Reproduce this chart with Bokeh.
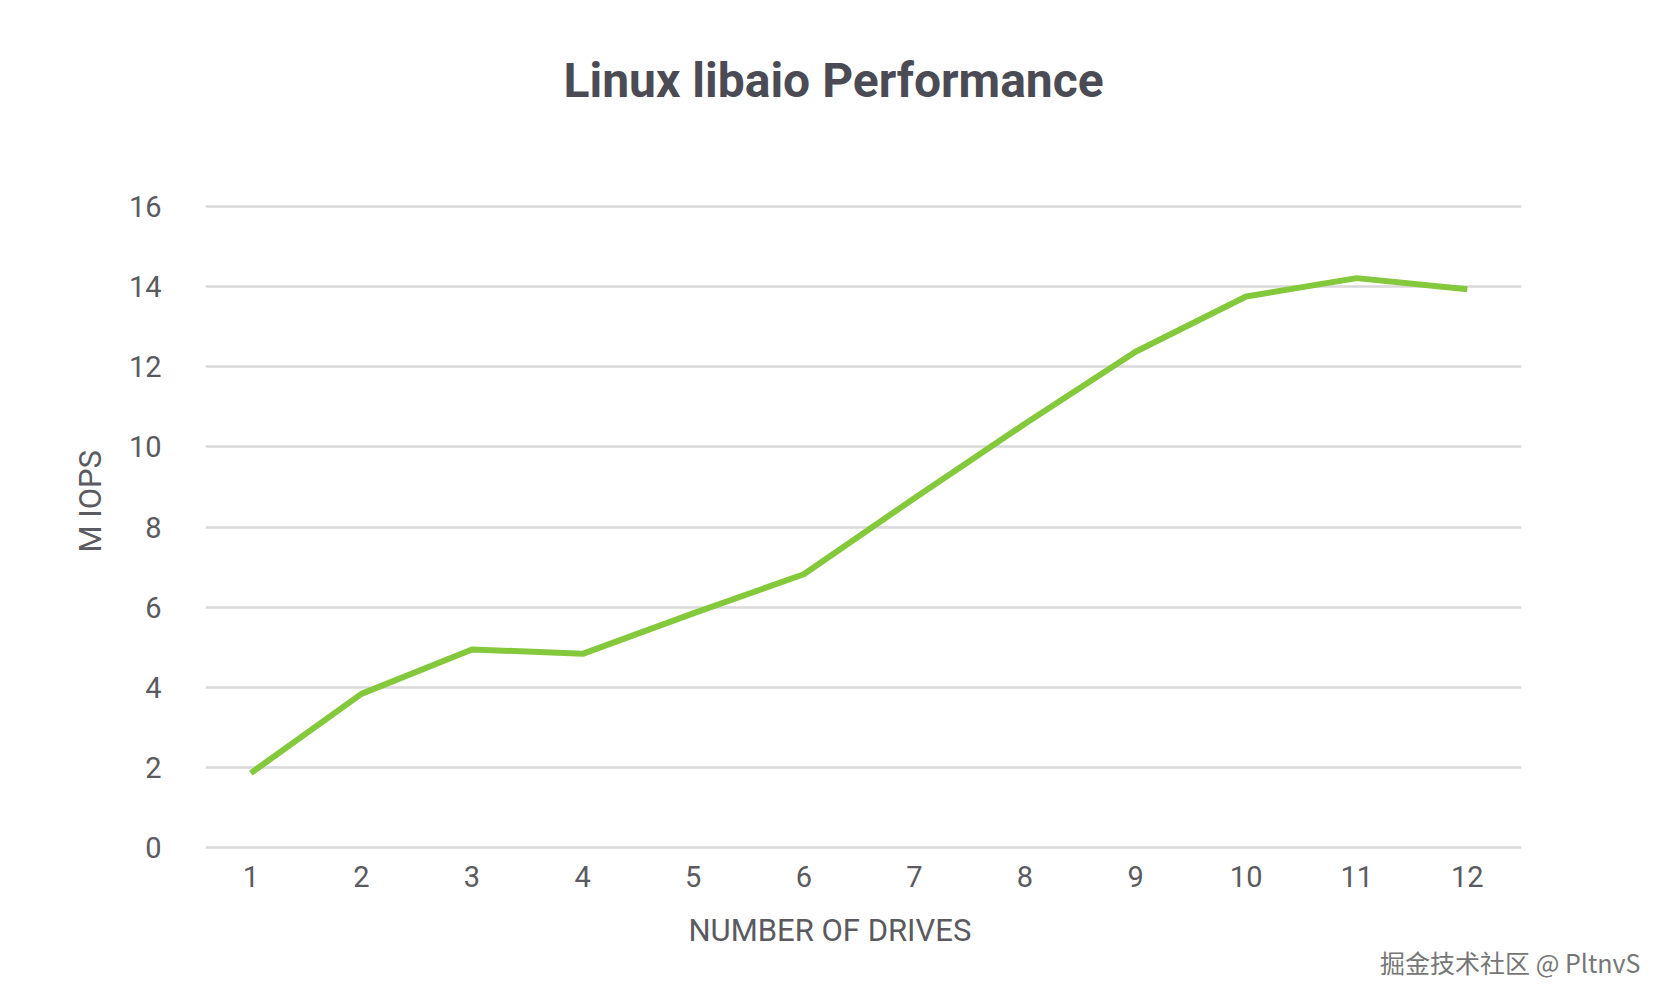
from bokeh.plotting import figure
from bokeh.models import Range1d, Title, FixedTicker, ColumnDataSource
from bokeh.embed import file_html
from bokeh.resources import INLINE

# data
drives = [1, 2, 3, 4, 5, 6, 7, 8, 9, 10, 11, 12]
miops = [1.85, 3.83, 4.94, 4.83, 5.84, 6.82, 8.72, 10.58, 12.38, 13.76, 14.22, 13.94]
y_ticks = [0, 2, 4, 6, 8, 10, 12, 14, 16]
title_text = "Linux libaio Performance"
x_label = "NUMBER OF DRIVES"
y_label = "M IOPS"
watermark = "掘金技术社区 @ PltnvS"

FONT = "Roboto"
TXT = "#5a5a60"

p = figure(width=1650, height=984, output_backend="svg", toolbar_location=None,
           x_range=Range1d(0.59, 12.49), y_range=Range1d(-0.06, 16.06),
           min_border_left=205, min_border_right=129, min_border_top=204,
           min_border_bottom=135, background_fill_color="white",
           border_fill_color="white", outline_line_color=None)

src = ColumnDataSource(dict(x=drives, y=miops))
p.line("x", "y", source=src, line_color="#84c83c", line_width=6)

p.xgrid.grid_line_color = None
p.ygrid.grid_line_color = "#d9d9d9"
p.ygrid.grid_line_width = 2.5
p.ygrid.ticker = FixedTicker(ticks=y_ticks)

for ax in (p.xaxis[0], p.yaxis[0]):
    ax.axis_line_color = None
    ax.major_tick_line_color = None
    ax.minor_tick_line_color = None
    ax.major_label_text_font = FONT
    ax.major_label_text_font_size = "29px"
    ax.major_label_text_color = TXT

p.xaxis.ticker = FixedTicker(ticks=drives)
p.yaxis.ticker = FixedTicker(ticks=y_ticks)
p.xaxis.major_label_standoff = 10
p.yaxis.major_label_standoff = 38

# axis titles placed as panels so they can be centred like the original
xt = Title(text=x_label, text_font=FONT, text_font_size="31px", text_font_style="normal",
           text_color=TXT, align="left", offset=483, standoff=41)
p.add_layout(xt, "below")
yt = Title(text=y_label, text_font=FONT, text_font_size="31px", text_font_style="normal",
           text_color=TXT, align="left", offset=297, standoff=34)
p.add_layout(yt, "left")

# spacer between the frame and the title
spacer = Title(text=" ", text_font_size="1px", standoff=83)
p.add_layout(spacer, "above")

p.title.text = title_text
p.title.text_font = FONT
p.title.text_font_size = "48px"
p.title.text_font_style = "bold"
p.title.text_color = "#4b4b55"
p.title.align = "left"
p.title.offset = 358
p.title.standoff = 20

wm = Title(text=watermark, text_font="Noto Sans CJK SC", text_font_size="25px",
           text_font_style="normal", text_color="#767676", align="right",
           vertical_align="top", offset=-119, standoff=-52)
p.add_layout(wm, "below")

open("out.html", "w").write(file_html(p, INLINE))
